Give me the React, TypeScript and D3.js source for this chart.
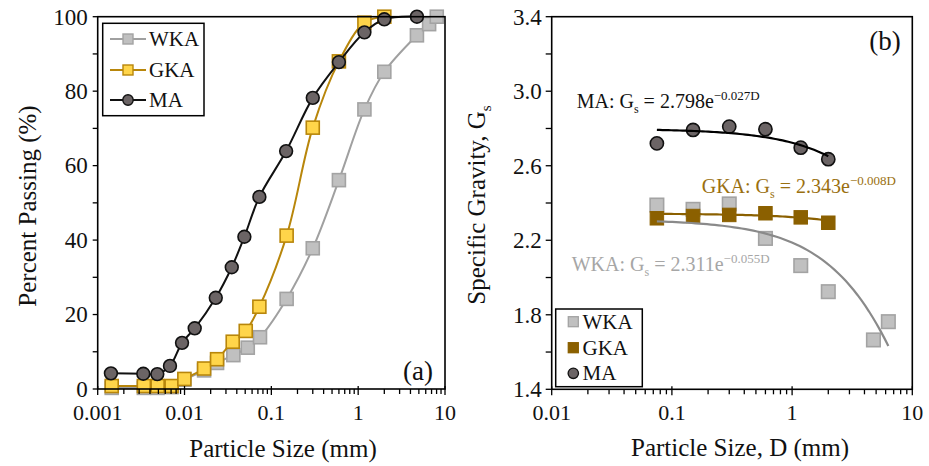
import React from "react";
import * as d3 from "d3";

// ---- Panel (a): grain size distribution ----
const wkaSize = [0.00145, 0.0034, 0.0049, 0.0071, 0.00996, 0.0168, 0.0237, 0.0365, 0.0535, 0.074, 0.15, 0.3, 0.6, 1.18, 2.0, 4.75, 6.56, 8.04];
const wkaPass = [0.3, 0.3, 0.3, 0.5, 2.5, 5.0, 7.0, 9.1, 11.1, 13.9, 24.2, 37.8, 56.1, 75.1, 85.2, 95.0, 98.0, 100];
const gkaSize = [0.00145, 0.0034, 0.0049, 0.0071, 0.00996, 0.0168, 0.0237, 0.0359, 0.0507, 0.0728, 0.15, 0.3, 0.6, 1.18, 2.0];
const gkaPass = [0.8, 0.8, 0.8, 0.8, 2.7, 5.5, 8.0, 12.7, 15.6, 22.1, 41.2, 70.2, 88.0, 98.4, 100];
const maSize = [0.00142, 0.00335, 0.00486, 0.0068, 0.00936, 0.0131, 0.0229, 0.035, 0.0489, 0.0728, 0.148, 0.3, 0.6, 1.18, 2.0, 4.75];
const maPass = [4.2, 4.1, 4.0, 6.2, 12.4, 16.3, 24.5, 32.7, 40.9, 51.6, 63.9, 78.2, 87.8, 95.8, 99.3, 100];

const passTicks = [0, 20, 40, 60, 80, 100];
const sizeTicksA = [0.001, 0.01, 0.1, 1, 10];
const sizeTickLabelsA = ["0.001", "0.01", "0.1", "1", "10"];

// ---- Panel (b): specific gravity vs particle size ----
const sieveB = [0.075, 0.15, 0.3, 0.6, 1.18, 2.0];
const wkaSieveB = [0.075, 0.15, 0.3, 0.6, 1.18, 2.0, 4.75, 6.32];
const wkaGs = [2.389, 2.366, 2.395, 2.21, 2.064, 1.924, 1.665, 1.763];
const gkaGs = [2.318, 2.33, 2.336, 2.345, 2.323, 2.294];
const maGs = [2.72, 2.792, 2.81, 2.796, 2.697, 2.635];

// Exponential fits Gs = a * exp(b * D)
const fitMA = { a: 2.798, b: -0.027, from: 0.075, to: 2.0 };
const fitGKA = { a: 2.343, b: -0.008, from: 0.075, to: 2.0 };
const fitWKA = { a: 2.311, b: -0.055, from: 0.075, to: 6.32 };

const gsTicks = [1.4, 1.8, 2.2, 2.6, 3.0, 3.4];
const gsTickLabels = ["1.4", "1.8", "2.2", "2.6", "3.0", "3.4"];
const sizeTicksB = [0.01, 0.1, 1, 10];
const sizeTickLabelsB = ["0.01", "0.1", "1", "10"];

const FONT = "'Liberation Serif', 'Times New Roman', serif";
const Y_LABEL_SIZE = 23;
const X_LABEL_SIZE = 22;

const C = {
  wkaFill: "#c0c0c0",
  wkaStroke: "#a3a3a3",
  wkaLine: "#a0a0a0",
  wkaFit: "#8a8a8a",
  wkaText: "#a6a6a6",
  gkaFill: "#ffd54a",
  gkaStroke: "#b8860b",
  gkaDark: "#8b6000",
  gkaText: "#9a7010",
  maFill: "#6b6465",
  maStroke: "#111111",
};

function minorTicks(lo: number, hi: number): number[] {
  const out: number[] = [];
  for (let e = Math.log10(lo); e < Math.log10(hi); e++) {
    for (let k = 2; k <= 9; k++) out.push(k * Math.pow(10, e));
  }
  return out;
}

function Square({ x, y, s, fill, stroke, sw = 1.6 }: any) {
  return <rect x={x - s / 2} y={y - s / 2} width={s} height={s} fill={fill} stroke={stroke} strokeWidth={sw} />;
}

function PanelA() {
  const x = d3.scaleLog().domain([0.001, 10]).range([97.7, 445]);
  const y = d3.scaleLinear().domain([0, 100]).range([389, 16.7]);
  const line = d3
    .line<[number, number]>()
    .x((d) => x(d[0]))
    .y((d) => y(d[1]))
    .curve(d3.curveCatmullRom.alpha(0.5));
  const zip = (a: number[], b: number[]) => a.map((v, i) => [v, b[i]] as [number, number]);
  const yMinor = d3.range(0, 101, 10);
  const [x0, x1] = x.range();
  const [yb, yt] = y.range();

  return (
    <g>
      {/* series lines and markers */}
      <path d={line(zip(wkaSize, wkaPass)) || ""} fill="none" stroke={C.wkaLine} strokeWidth={2} />
      {wkaSize.map((s, i) => (
        <Square key={"w" + i} x={x(s)} y={y(wkaPass[i])} s={13} fill={C.wkaFill} stroke={C.wkaStroke} />
      ))}
      <path d={line(zip(gkaSize, gkaPass)) || ""} fill="none" stroke={C.gkaStroke} strokeWidth={2} />
      {gkaSize.map((s, i) => (
        <Square key={"g" + i} x={x(s)} y={y(gkaPass[i])} s={13} fill={C.gkaFill} stroke={C.gkaStroke} />
      ))}
      <path d={line(zip(maSize, maPass)) || ""} fill="none" stroke={C.maStroke} strokeWidth={2} />
      {maSize.map((s, i) => (
        <circle key={"m" + i} cx={x(s)} cy={y(maPass[i])} r={6.4} fill={C.maFill} stroke={C.maStroke} strokeWidth={1.6} />
      ))}

      {/* frame */}
      <rect x={x0} y={yt} width={x1 - x0} height={yb - yt} fill="none" stroke="#000" strokeWidth={1.6} />

      {/* y ticks */}
      {yMinor.map((v) => (
        <line key={"yt" + v} x1={x0 - 5} x2={x0} y1={y(v)} y2={y(v)} stroke="#000" strokeWidth={1.3} />
      ))}
      {passTicks.map((v) => (
        <text key={"yl" + v} x={x0 - 10} y={y(v)} dy="0.34em" textAnchor="end" fontSize={Y_LABEL_SIZE} fontFamily={FONT} fill="#111">
          {v}
        </text>
      ))}

      {/* x ticks */}
      {minorTicks(0.001, 10).map((v, i) => (
        <line key={"xm" + i} x1={x(v)} x2={x(v)} y1={yb} y2={yb + 5} stroke="#000" strokeWidth={1.3} />
      ))}
      {sizeTicksA.map((v, i) => (
        <g key={"xl" + i}>
          <line x1={x(v)} x2={x(v)} y1={yb - 3} y2={yb + 6} stroke="#000" strokeWidth={1.3} />
          <text x={x(v)} y={yb + 31} textAnchor="middle" fontSize={X_LABEL_SIZE} fontFamily={FONT} fill="#111">
            {sizeTickLabelsA[i]}
          </text>
        </g>
      ))}

      {/* axis titles */}
      <text x={283} y={457} textAnchor="middle" fontSize={25} fontFamily={FONT} fill="#111">
        Particle Size (mm)
      </text>
      <text transform="translate(36,206) rotate(-90)" textAnchor="middle" fontSize={25} fontFamily={FONT} fill="#111">
        Percent Passing (%)
      </text>

      {/* panel tag */}
      <text x={418} y={380} textAnchor="middle" fontSize={27} fontFamily={FONT} fill="#111">
        (a)
      </text>

      {/* legend */}
      <rect x={102.7} y={23.3} width={101.3} height={92.4} fill="#fff" stroke="#000" strokeWidth={1.5} />
      {[
        { name: "WKA", yy: 39, kind: "sq", fill: C.wkaFill, stroke: C.wkaStroke, ln: C.wkaLine },
        { name: "GKA", yy: 70, kind: "sq", fill: C.gkaFill, stroke: C.gkaStroke, ln: C.gkaStroke },
        { name: "MA", yy: 100, kind: "ci", fill: C.maFill, stroke: C.maStroke, ln: C.maStroke },
      ].map((e) => (
        <g key={e.name}>
          <line x1={110} x2={146} y1={e.yy} y2={e.yy} stroke={e.ln} strokeWidth={2} />
          {e.kind === "sq" ? (
            <Square x={128} y={e.yy} s={10} fill={e.fill} stroke={e.stroke} sw={1.4} />
          ) : (
            <circle cx={128} cy={e.yy} r={5.2} fill={e.fill} stroke={e.stroke} strokeWidth={1.4} />
          )}
          <text x={149} y={e.yy} dy="0.34em" fontSize={21} fontFamily={FONT} fill="#111">
            {e.name}
          </text>
        </g>
      ))}
    </g>
  );
}

function FitLabel({ x, y, name, a, b, color }: any) {
  return (
    <text x={x} y={y} fontSize={20} fontFamily={FONT} fill={color}>
      {name}: G
      <tspan fontSize={12} dy={5}>s</tspan>
      <tspan dy={-5}> = {a.toFixed(3)}e</tspan>
      <tspan fontSize={13} dy={-8}>
        {"\u2212"}
        {Math.abs(b).toFixed(3)}D
      </tspan>
    </text>
  );
}

function PanelB() {
  const x = d3.scaleLog().domain([0.01, 10]).range([551.7, 912.3]);
  const y = d3.scaleLinear().domain([1.4, 3.4]).range([389.3, 16.7]);
  const [x0, x1] = x.range();
  const [yb, yt] = y.range();
  const fitPath = (f: { a: number; b: number; from: number; to: number }) => {
    const lo = Math.log10(f.from);
    const hi = Math.log10(f.to);
    const pts = d3.range(0, 61).map((i) => {
      const D = Math.pow(10, lo + ((hi - lo) * i) / 60);
      return [x(D), y(f.a * Math.exp(f.b * D))] as [number, number];
    });
    return d3.line()(pts) || "";
  };
  const gsMinor = d3.range(0, 11).map((i) => 1.4 + i * 0.2);

  return (
    <g>
      {/* WKA markers */}
      {wkaSieveB.map((s, i) => (
        <Square key={"w" + i} x={x(s)} y={y(wkaGs[i])} s={13.5} fill={C.wkaFill} stroke={C.wkaStroke} />
      ))}
      {/* GKA fit and markers */}
      <path d={fitPath(fitGKA)} fill="none" stroke={C.gkaDark} strokeWidth={2.2} />
      {sieveB.map((s, i) => (
        <Square key={"g" + i} x={x(s)} y={y(gkaGs[i])} s={13.5} fill={C.gkaDark} stroke={C.gkaDark} sw={1} />
      ))}
      {/* WKA fit */}
      <path d={fitPath(fitWKA)} fill="none" stroke={C.wkaFit} strokeWidth={2.2} />
      {/* MA markers and fit */}
      {sieveB.map((s, i) => (
        <circle key={"m" + i} cx={x(s)} cy={y(maGs[i])} r={6.6} fill={C.maFill} stroke={C.maStroke} strokeWidth={1.6} />
      ))}
      <path d={fitPath(fitMA)} fill="none" stroke="#000" strokeWidth={2.2} />

      {/* frame */}
      <rect x={x0} y={yt} width={x1 - x0} height={yb - yt} fill="none" stroke="#000" strokeWidth={1.6} />

      {/* y ticks */}
      {gsMinor.map((v, i) => (
        <line key={"yt" + i} x1={x0 - 6} x2={x0} y1={y(v)} y2={y(v)} stroke="#000" strokeWidth={1.3} />
      ))}
      {gsTicks.map((v, i) => (
        <text key={"yl" + i} x={x0 - 10} y={y(v)} dy="0.34em" textAnchor="end" fontSize={Y_LABEL_SIZE} fontFamily={FONT} fill="#111">
          {gsTickLabels[i]}
        </text>
      ))}

      {/* x ticks */}
      {minorTicks(0.01, 10).map((v, i) => (
        <line key={"xm" + i} x1={x(v)} x2={x(v)} y1={yb} y2={yb + 5} stroke="#000" strokeWidth={1.3} />
      ))}
      {sizeTicksB.map((v, i) => (
        <g key={"xl" + i}>
          <line x1={x(v)} x2={x(v)} y1={yb - 3} y2={yb + 6} stroke="#000" strokeWidth={1.3} />
          <text x={x(v)} y={yb + 31} textAnchor="middle" fontSize={X_LABEL_SIZE} fontFamily={FONT} fill="#111">
            {sizeTickLabelsB[i]}
          </text>
        </g>
      ))}

      {/* axis titles */}
      <text x={740} y={456} textAnchor="middle" fontSize={25} fontFamily={FONT} fill="#111">
        Particle Size, D (mm)
      </text>
      <text transform="translate(485,205) rotate(-90)" textAnchor="middle" fontSize={25} fontFamily={FONT} fill="#111">
        Specific Gravity, G<tspan fontSize={15} dy={6}>s</tspan>
      </text>

      {/* fit equations */}
      <FitLabel x={576.7} y={108} name="MA" a={fitMA.a} b={fitMA.b} color="#111" />
      <FitLabel x={701.7} y={193} name="GKA" a={fitGKA.a} b={fitGKA.b} color={C.gkaText} />
      <FitLabel x={571.7} y={270.5} name="WKA" a={fitWKA.a} b={fitWKA.b} color={C.wkaText} />

      {/* panel tag */}
      <text x={885} y={50} textAnchor="middle" fontSize={27} fontFamily={FONT} fill="#111">
        (b)
      </text>

      {/* legend */}
      <rect x={555.7} y={309} width={86.6} height={77.7} fill="#fff" stroke="#000" strokeWidth={1.5} />
      {[
        { name: "WKA", yy: 321.7, kind: "sq", fill: C.wkaFill, stroke: C.wkaStroke },
        { name: "GKA", yy: 347.7, kind: "sq", fill: C.gkaDark, stroke: C.gkaDark },
        { name: "MA", yy: 373.3, kind: "ci", fill: C.maFill, stroke: C.maStroke },
      ].map((e) => (
        <g key={e.name}>
          {e.kind === "sq" ? (
            <Square x={573.3} y={e.yy} s={10} fill={e.fill} stroke={e.stroke} sw={1.3} />
          ) : (
            <circle cx={573.3} cy={e.yy} r={5.2} fill={e.fill} stroke={e.stroke} strokeWidth={1.3} />
          )}
          <text x={582.5} y={e.yy} dy="0.34em" fontSize={21} fontFamily={FONT} fill="#111">
            {e.name}
          </text>
        </g>
      ))}
    </g>
  );
}

export default function App() {
  return (
    <svg
      width={929}
      height={466}
      viewBox="0 0 929 466"
      style={{ position: "absolute", left: 0, top: 0, background: "#fff", display: "block" }}
    >
      <rect width={929} height={466} fill="#fff" />
      <PanelA />
      <PanelB />
    </svg>
  );
}
